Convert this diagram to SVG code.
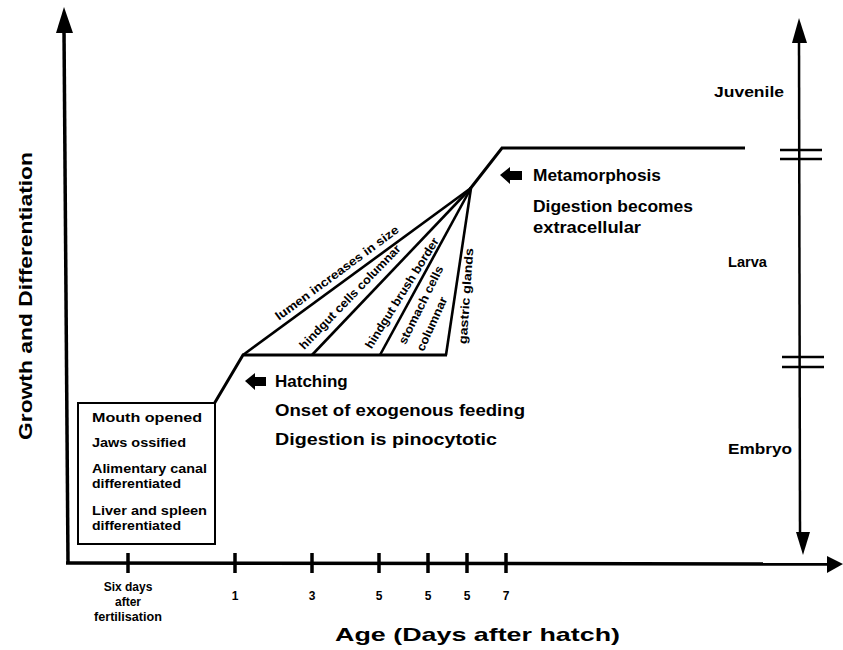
<svg xmlns="http://www.w3.org/2000/svg" width="843" height="650" viewBox="0 0 843 650">
<style>
text{font-family:"Liberation Sans",Arial,sans-serif;font-weight:bold;fill:#000}
.ax{stroke:#000;stroke-width:3.5;fill:none}
.ln{stroke:#000;stroke-width:3;fill:none;stroke-linejoin:miter}
.fan{stroke:#000;stroke-width:2.6;fill:none}
.tk{stroke:#000;stroke-width:3.5}
.brk{stroke:#000;stroke-width:2.5}
.f12{font-size:12px}
.f14{font-size:14px}
.f17{font-size:17px}
.big{font-size:19px}
</style>
<rect width="843" height="650" fill="#fff"/>
<g id="axes">
  <line class="ax" x1="64" y1="30" x2="68" y2="563"/>
  <polygon points="64,7 56,33 73,33" fill="#000"/>
  <line class="ax" x1="66" y1="563" x2="830" y2="564"/>
  <polygon points="843,564 827,556 827,573" fill="#000"/>
  <line class="tk" x1="128" y1="553" x2="128" y2="573"/>
  <line class="tk" x1="235" y1="553" x2="235" y2="573"/>
  <line class="tk" x1="312" y1="553" x2="312" y2="573"/>
  <line class="tk" x1="379" y1="553" x2="379" y2="573"/>
  <line class="tk" x1="428" y1="553" x2="428" y2="573"/>
  <line class="tk" x1="467" y1="553" x2="467" y2="573"/>
  <line class="tk" x1="506" y1="553" x2="506" y2="573"/>
  <text class="f12" text-anchor="middle" x="235" y="600">1</text>
  <text class="f12" text-anchor="middle" x="312" y="600">3</text>
  <text class="f12" text-anchor="middle" x="379" y="600">5</text>
  <text class="f12" text-anchor="middle" x="428" y="600">5</text>
  <text class="f12" text-anchor="middle" x="467" y="600">5</text>
  <text class="f12" text-anchor="middle" x="506" y="600">7</text>
  <text class="f12" text-anchor="middle" x="128" y="591">Six days</text>
  <text class="f12" text-anchor="middle" x="128" y="606">after</text>
  <text class="f12" text-anchor="middle" x="128" y="621" textLength="68" lengthAdjust="spacingAndGlyphs">fertilisation</text>
  <text class="big" x="335" y="641" textLength="285" lengthAdjust="spacingAndGlyphs">Age (Days after hatch)</text>
  <text class="big" transform="translate(32,296) rotate(-90)" text-anchor="middle" x="0" y="0" textLength="288" lengthAdjust="spacingAndGlyphs">Growth and Differentiation</text>
</g>
<g id="stage-axis">
  <line class="ax" x1="799" y1="40" x2="800" y2="535" style="stroke-width:2.5"/>
  <polygon points="799,18 792,43 807,43" fill="#000"/>
  <polygon points="803,555 796,532 810,532" fill="#000"/>
  <line class="brk" x1="780" y1="150" x2="822" y2="150"/>
  <line class="brk" x1="780" y1="159" x2="822" y2="159"/>
  <line class="brk" x1="782" y1="357" x2="824" y2="357"/>
  <line class="brk" x1="782" y1="367" x2="824" y2="367"/>
  <text class="f14" x="714" y="97" textLength="70" lengthAdjust="spacingAndGlyphs">Juvenile</text>
  <text class="f14" x="728" y="267" textLength="39" lengthAdjust="spacingAndGlyphs">Larva</text>
  <text class="f14" x="728" y="454" textLength="64" lengthAdjust="spacingAndGlyphs" style="font-size:15px">Embryo</text>
</g>
<g id="embryo-box">
  <rect x="78" y="403" width="137" height="141" fill="none" stroke="#000" stroke-width="2"/>
  <text class="f12" x="92" y="422" textLength="110" lengthAdjust="spacingAndGlyphs">Mouth opened</text>
  <text class="f12" x="92" y="447" textLength="94" lengthAdjust="spacingAndGlyphs">Jaws ossified</text>
  <text class="f12" x="92" y="473" textLength="115" lengthAdjust="spacingAndGlyphs">Alimentary canal</text>
  <text class="f12" x="92" y="488" textLength="89" lengthAdjust="spacingAndGlyphs">differentiated</text>
  <text class="f12" x="92" y="515" textLength="115" lengthAdjust="spacingAndGlyphs">Liver and spleen</text>
  <text class="f12" x="92" y="530" textLength="89" lengthAdjust="spacingAndGlyphs">differentiated</text>
</g>
<g id="connectors">
  <polyline class="ln" points="214,404 243,355 447,355"/>
  <polyline class="ln" points="470,189 502,148 745,148"/>
  <line class="fan" x1="243" y1="355" x2="471" y2="188"/>
  <line class="fan" x1="312" y1="355" x2="471" y2="188"/>
  <line class="fan" x1="380" y1="355" x2="471" y2="188"/>
  <line class="fan" x1="446" y1="355" x2="471" y2="188"/>
</g>
<g id="fan-labels">
  <text class="f12" text-anchor="middle" transform="translate(337,273) rotate(-36.5)" x="0" y="4" textLength="150" lengthAdjust="spacingAndGlyphs">lumen increases in size</text>
  <text class="f12" text-anchor="middle" transform="translate(350,297) rotate(-46)" x="0" y="4" textLength="140" lengthAdjust="spacingAndGlyphs">hindgut cells columnar</text>
  <text class="f12" text-anchor="middle" transform="translate(402,293) rotate(-58)" x="0" y="4" textLength="128" lengthAdjust="spacingAndGlyphs">hindgut brush border</text>
  <text class="f12" text-anchor="middle" transform="translate(421,305) rotate(-63.5)" x="0" y="4" textLength="86" lengthAdjust="spacingAndGlyphs">stomach cells</text>
  <text class="f12" text-anchor="middle" transform="translate(432,324) rotate(-65.5)" x="0" y="4" textLength="58" lengthAdjust="spacingAndGlyphs">columnar</text>
  <text class="f12" text-anchor="middle" transform="translate(466,296) rotate(-86)" x="0" y="4" textLength="96" lengthAdjust="spacingAndGlyphs">gastric glands</text>
</g>
<g id="hatching">
  <polygon points="245,381 255,373 255,377 266,377 266,386 255,386 255,390" fill="#000"/>
  <text class="f17" x="275" y="387">Hatching</text>
  <text class="f17" x="275" y="416" textLength="250" lengthAdjust="spacingAndGlyphs">Onset of exogenous feeding</text>
  <text class="f17" x="275" y="445" textLength="222" lengthAdjust="spacingAndGlyphs">Digestion is pinocytotic</text>
</g>
<g id="metamorphosis">
  <polygon points="500,175 510,167 510,171 522,171 522,180 510,180 510,184" fill="#000"/>
  <text class="f17" x="533" y="181" textLength="128" lengthAdjust="spacingAndGlyphs">Metamorphosis</text>
  <text class="f17" x="533" y="212" textLength="160" lengthAdjust="spacingAndGlyphs">Digestion becomes</text>
  <text class="f17" x="533" y="233" textLength="108" lengthAdjust="spacingAndGlyphs">extracellular</text>
</g>
</svg>
